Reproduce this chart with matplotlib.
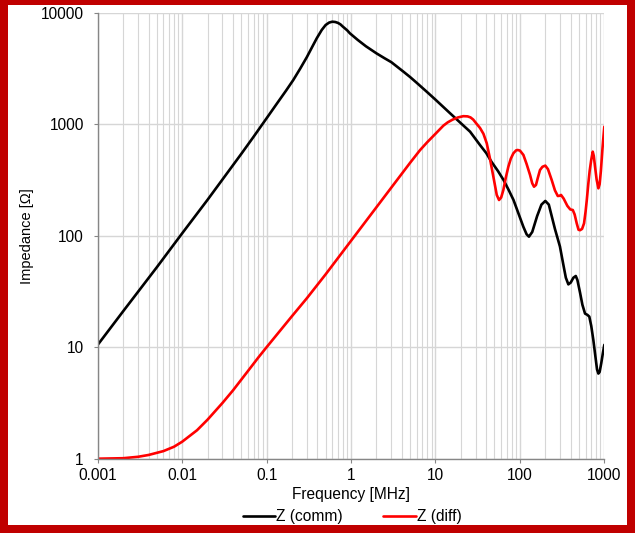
import numpy as np
import matplotlib
matplotlib.use("Agg")
import matplotlib.pyplot as plt
from matplotlib.patches import Rectangle
from matplotlib.ticker import LogLocator, FixedLocator, NullFormatter

plt.rcParams['font.family'] = ['Liberation Sans', 'DejaVu Sans']

# Z (comm), frequency in MHz, impedance in ohm
f_comm = [0.001, 0.002, 0.005, 0.01, 0.02, 0.05, 0.07, 0.1, 0.13, 0.17,
          0.207, 0.25, 0.3, 0.35, 0.393, 0.45, 0.5, 0.55, 0.6, 0.65,
          0.7, 0.75, 0.8, 0.9, 0.97, 1.2, 1.5, 2.0, 2.5, 3.0,
          4.17, 5.0, 6.0, 7.88, 10, 14.9, 20, 25.7, 33.7, 40,
          46, 55, 64, 74, 84, 100, 110, 120, 128, 140,
          160, 180, 200, 220, 238, 260, 298, 330, 350, 375,
          400, 430, 459, 480, 515, 550, 591, 630, 664, 700,
          741, 780, 820, 850, 880, 920, 960, 1000]
z_comm = [10.5, 21, 52, 105, 210, 540, 770, 1130, 1500, 2000,
          2490, 3150, 4000, 5000, 5900, 7000, 7750, 8150, 8300, 8250,
          8100, 7850, 7500, 6950, 6530, 5700, 5000, 4320, 3900, 3600,
          2960, 2650, 2350, 1955, 1660, 1253, 1020, 857, 650, 550,
          461, 380, 316, 255, 209, 146, 120, 103, 98, 108,
          150, 190, 205, 190, 150, 115, 80, 53, 42, 36.6,
          38, 42, 43.5, 40, 31, 24, 20, 19.5, 18.8, 15.5,
          11.6, 8.5, 6.3, 5.8, 6.0, 7.2, 8.8, 10.5]

# Z (diff)
f_diff = [0.001, 0.002, 0.003, 0.004, 0.006, 0.008, 0.01, 0.015, 0.02, 0.03,
          0.04, 0.06, 0.08, 0.1, 0.2, 0.3, 0.5, 1.0, 2.0, 3.0,
          5.0, 6.56, 8, 10, 12.4, 14, 16, 18.5, 21.4, 24,
          26, 28, 30, 33.7, 37, 40.5, 44, 48.5, 53.2, 56.6,
          60, 63.7, 68, 73, 78, 83.7, 90, 94, 100, 110,
          120, 132, 140, 147, 155, 163, 173, 185, 200, 215,
          238, 260, 281, 295, 307, 330, 365, 395, 423, 445,
          471, 495, 515, 545, 575, 600, 620, 647, 670, 700,
          729, 750, 776, 810, 850, 880, 910, 950, 980, 1000]
z_diff = [1.0, 1.01, 1.04, 1.08, 1.17, 1.28, 1.42, 1.8, 2.24, 3.16,
          4.1, 6.1, 8.1, 10, 19, 27.5, 45, 90, 180, 270,
          450, 585, 690, 820, 970, 1040, 1100, 1150, 1180, 1175,
          1150, 1100, 1030, 925, 820, 674, 500, 338, 232, 209,
          220, 257, 330, 416, 490, 548, 582, 587, 580, 530,
          440, 350, 295, 275, 285, 330, 388, 415, 425, 395,
          316, 255, 227, 228, 232, 215, 185, 172, 170, 155,
          129, 113, 112, 115, 129, 165, 209, 295, 380, 480,
          567, 520, 416, 320, 266, 290, 380, 600, 800, 950]

fig = plt.figure(figsize=(6.35, 5.33), dpi=100)
ax = fig.add_axes([0.1539, 0.1394, 0.7978, 0.8368])

ax.plot(f_comm, z_comm, color='black', lw=1.9, label='Z (comm)',
        solid_capstyle='round', solid_joinstyle='round')
ax.plot(f_diff, z_diff, color='#ff0000', lw=1.9, label='Z (diff)',
        solid_capstyle='round', solid_joinstyle='round')

ax.set_xscale('log')
ax.set_yscale('log')
ax.set_xlim(0.001, 1000)
ax.set_ylim(1, 10000)

xt = [0.001, 0.01, 0.1, 1, 10, 100, 1000]
yt = [1, 10, 100, 1000, 10000]
ax.xaxis.set_major_locator(FixedLocator(xt))
ax.set_xticklabels(['0.001', '0.01', '0.1', '1', '10', '100', '1000'])
ax.xaxis.set_minor_locator(LogLocator(base=10, subs=np.arange(2, 10), numticks=20))
ax.xaxis.set_minor_formatter(NullFormatter())
ax.yaxis.set_major_locator(FixedLocator(yt))
ax.set_yticklabels(['1', '10', '100', '1000', '10000'])
ax.yaxis.set_minor_locator(FixedLocator([]))

ax.grid(True, which='major', axis='both', color='#d6d6d6', lw=1.0)
ax.grid(True, which='minor', axis='x', color='#d6d6d6', lw=0.8)
ax.set_axisbelow(True)

for s in ['top', 'right']:
    ax.spines[s].set_visible(False)
for s in ['left', 'bottom']:
    ax.spines[s].set_color('#868686')
    ax.spines[s].set_linewidth(1.0)

ax.tick_params(axis='y', which='major', length=3, color='#868686', pad=7, labelsize=11.2)
ax.tick_params(axis='x', which='major', length=3, color='#868686', pad=4, labelsize=11.2)
ax.tick_params(axis='x', which='minor', length=0)

fig.text(27 / 635, 1 - 236 / 533, 'Impedance [Ω]', rotation=90, ha='center', va='center', fontsize=10.5)
fig.text(351 / 635, 1 - 495 / 533, 'Frequency [MHz]', ha='center', va='center', fontsize=11.2)

fig.legend(loc='center', bbox_to_anchor=(352 / 635, 1 - 517 / 533), ncol=2, frameon=False,
           fontsize=11.2, handlelength=2.1, handletextpad=0.05, columnspacing=2.6)

# red frame around the picture
red = '#c00000'
W, H = 635, 533
for x0, y0, w, h in [(0, 0, 8, H), (W - 8, 0, 8, H), (0, H - 5, W, 5), (0, 0, W, 8)]:
    fig.patches.append(Rectangle((x0 / W, y0 / H), w / W, h / H, transform=fig.transFigure,
                                 facecolor=red, edgecolor='none', zorder=10))

fig.savefig('out.png', dpi=100)
